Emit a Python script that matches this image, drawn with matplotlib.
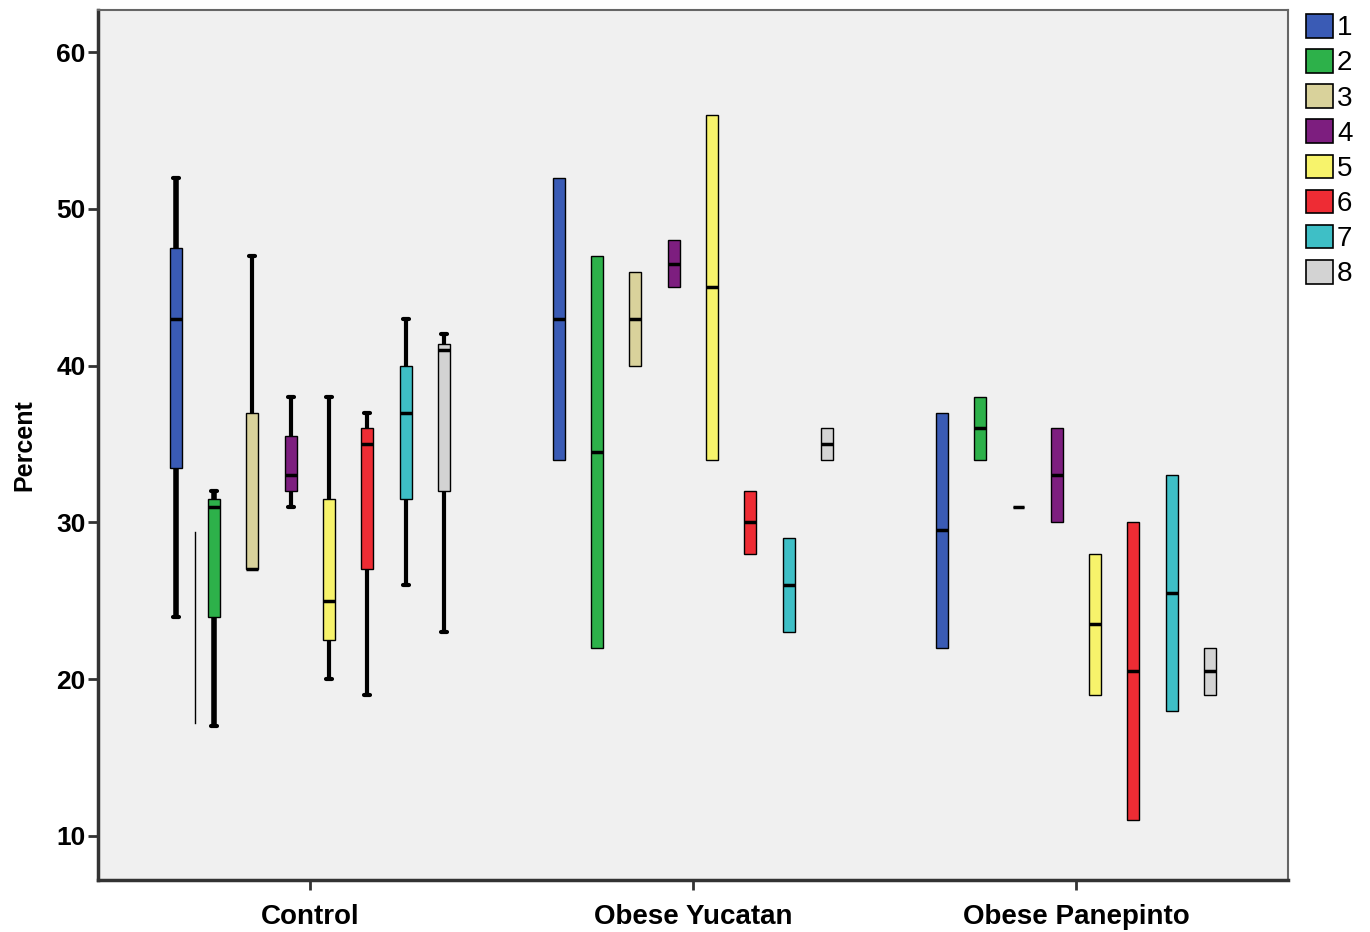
import matplotlib
matplotlib.use('Agg')
import matplotlib.pyplot as plt
from matplotlib.patches import Patch

plt.rcParams['font.family'] = ['Liberation Sans', 'DejaVu Sans']

# 데이터 : (min, q1, median, q3, max)
groups = ['Control', 'Obese Yucatan', 'Obese Panepinto']
series = ['1', '2', '3', '4', '5', '6', '7', '8']
colors = ['#3a5bb5', '#2db14a', '#d9d29b', '#7d1e7f',
          '#f7f36b', '#ee2c34', '#3ebfc6', '#d3d3d3']

control = [(24, 33.5, 43, 47.5, 52),
           (17, 24, 31, 31.5, 32),
           (27, 27, 27, 37, 47),
           (31, 32, 33, 35.5, 38),
           (20, 22.5, 25, 31.5, 38),
           (19, 27, 35, 36, 37),
           (26, 31.5, 37, 40, 43),
           (23, 32, 41, 41.4, 42)]
yucatan = [(34, 34, 43, 52, 52),
           (22, 22, 34.5, 47, 47),
           (40, 40, 43, 46, 46),
           (45, 45, 46.5, 48, 48),
           (34, 34, 45, 56, 56),
           (28, 28, 30, 32, 32),
           (23, 23, 26, 29, 29),
           (34, 34, 35, 36, 36)]
panepinto = [(22, 22, 29.5, 37, 37),
             (34, 34, 36, 38, 38),
             (31, 31, 31, 31, 31),
             (30, 30, 33, 36, 36),
             (19, 19, 23.5, 28, 28),
             (11, 11, 20.5, 30, 30),
             (18, 18, 25.5, 33, 33),
             (19, 19, 20.5, 22, 22)]
all_data = [control, yucatan, panepinto]

# Control 그룹 1, 2 사이의 가는 선 (원본 그림에 있는 선)
stray_offset = -0.30
stray_range = (17.2, 29.4)

fig = plt.figure(figsize=(13.7, 9.32), dpi=100)
ax = fig.add_axes([0.0715, 0.0558, 0.8685, 0.9332])
ax.set_facecolor('#f0f0f0')

step = 0.1
bw = 0.031
for g, data in enumerate(all_data):
    for i, (lo, q1, med, q3, hi) in enumerate(data):
        x = g + (i - 3.5) * step
        st = [{'whislo': lo, 'q1': q1, 'med': med, 'q3': q3, 'whishi': hi, 'fliers': []}]
        wlw = 4.0 if (g == 0 and i in (0, 1)) else 3.0
        art = ax.bxp(st, positions=[x], widths=bw, showcaps=False, patch_artist=True,
                     boxprops=dict(facecolor=colors[i], edgecolor='black', linewidth=1.0),
                     whiskerprops=dict(color='black', linewidth=wlw, solid_capstyle='butt'),
                     medianprops=dict(color='black', linewidth=2.5, solid_capstyle='butt'),
                     manage_ticks=False)
        for wl in art['whiskers']:
            wl.set_zorder(1)
        # 수염이 박스 밖으로 나올 때만 캡 표시
        if hi > q3:
            ax.plot([x - 0.008, x + 0.008], [hi, hi], color='black', lw=3, solid_capstyle='round')
        if lo < q1:
            ax.plot([x - 0.008, x + 0.008], [lo, lo], color='black', lw=3, solid_capstyle='round')

ax.plot([stray_offset, stray_offset], stray_range, color='black', lw=1)

ax.set_xlim(-0.553, 2.553)
ax.set_ylim(7.19, 62.68)
ax.set_xticks(range(len(groups)))
ax.set_xticklabels(groups, fontsize=20, fontweight='bold')
ax.set_yticks([10, 20, 30, 40, 50, 60])
ax.set_yticklabels(['10', '20', '30', '40', '50', '60'], fontsize=19, fontweight='bold')
ax.tick_params(axis='both', direction='out', length=7, width=2, color='#333333')
ax.tick_params(axis='x', pad=10)
ax.tick_params(axis='y', pad=2)
ax.set_ylabel('Percent', fontsize=18, fontweight='bold', labelpad=14)

for s in ['left', 'bottom']:
    ax.spines[s].set_linewidth(2.5)
    ax.spines[s].set_color('#333333')
for s in ['top', 'right']:
    ax.spines[s].set_linewidth(1.5)
    ax.spines[s].set_color('#666666')

handles = [Patch(facecolor=c, edgecolor='black', linewidth=1.2) for c in colors]
fig.legend(handles, series, loc='upper left', bbox_to_anchor=(1306 / 1370, 1 - 14 / 932),
           frameon=False, fontsize=20, handlelength=0.97, handleheight=0.93,
           labelspacing=0.28, handletextpad=0.15, borderpad=0, borderaxespad=0)

fig.savefig('out.png', dpi=100)
